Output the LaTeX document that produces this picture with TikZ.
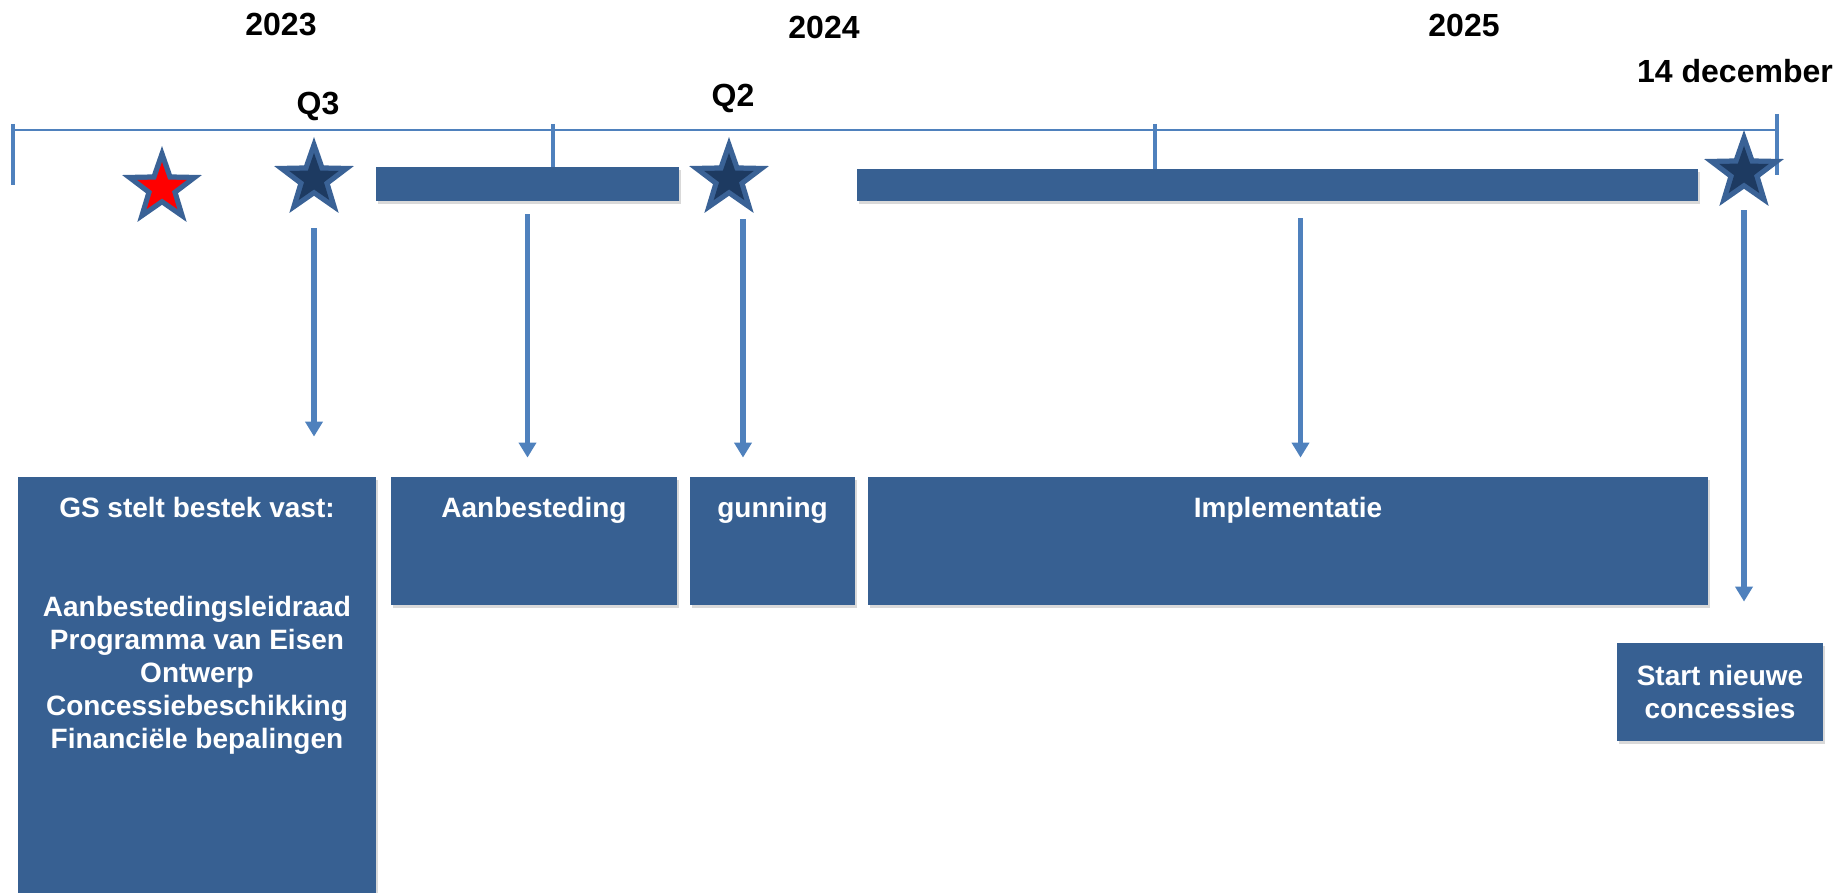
\documentclass[tikz,border=0pt]{standalone}
\usepackage{fontspec}
\setmainfont{Liberation Sans}
\usetikzlibrary{shapes.geometric,shadows,arrows.meta,positioning}
\definecolor{tlblue}{HTML}{4F81BD}
\definecolor{phaseblue}{HTML}{376092}
\definecolor{starnavy}{HTML}{1D3A61}
\definecolor{starrim}{HTML}{3A6296}

\begin{document}
\begin{tikzpicture}[x=0.5pt,y=-0.5pt,
  yearlbl/.style={font=\fontsize{16}{19}\selectfont\bfseries,inner sep=0},
  tick/.style={tlblue,line width=2.2pt},
  phase/.style={fill=phaseblue,inner sep=0,
    drop shadow={opacity=0.3,shadow xshift=1pt,shadow yshift=-1.5pt}},
  phasetext/.style={text=white,font=\fontsize{14}{16.5}\selectfont\bfseries,
    align=center,inner sep=0},
  starrim/.style={star,star points=5,star point ratio=2.5,fill=starrim,
    minimum size=42pt,inner sep=0},
  starcore/.style={star,star points=5,star point ratio=2.5,fill=starnavy,
    minimum size=26pt,inner sep=0},
  flow/.style={tlblue,line width=2.6pt,-{Triangle[width=8.5pt,length=7.5pt]}}
]
\useasboundingbox (0,0) rectangle (1841,893);

\node[yearlbl] (y2023) at (281,25) {2023};
\node[yearlbl] (y2024) at (824,27) {2024};
\node[yearlbl] (y2025) at (1464,25) {2025};
\node[yearlbl] (dec14) at (1735,71) {14 december};
\node[yearlbl] (q3lbl) at (318,106) {Q3};
\node[yearlbl] (q2lbl) at (733,98) {Q2};

\coordinate (tstart) at (13,130);
\coordinate (tend) at (1777,130);
\draw[tlblue,line width=1.2pt] (tstart) -- (tend);
\draw[tick] (13,124) -- (13,185);
\draw[tick] (553,124) -- (553,168);
\draw[tick] (1155,124) -- (1155,170);
\draw[tick] (1777,114) -- (1777,175);

\node[phase,minimum width=151.5pt,minimum height=17pt] (bar1) at (527.5,184) {};
\node[phase,minimum width=420.5pt,minimum height=16pt] (bar2) at (1277.5,185) {};

\node[starrim] (redstar) at (162,188) {};
\node[starcore,fill=red] (redcore) at (redstar) {};
\node[starrim] (q3) at (314,179) {};
\node[starcore] (q3core) at (q3) {};
\node[starrim] (q2) at (729,179) {};
\node[starcore] (q2core) at (q2) {};
\node[starrim] (eind) at (1744,172) {};
\node[starcore] (eindcore) at (eind) {};

\node[phase,minimum width=179pt,minimum height=208pt] (gs) at (197,685) {};
\node[phase,minimum width=143pt,minimum height=64pt] (aanb) at (534,541) {};
\node[phase,minimum width=82.5pt,minimum height=64pt] (gun) at (772.5,541) {};
\node[phase,minimum width=420pt,minimum height=64pt] (impl) at (1288,541) {};
\node[phase,minimum width=103pt,minimum height=49pt] (start) at (1720,692) {};

\node[phasetext,below=10pt of gs.north] (gstxt) {GS stelt bestek vast:\\[33pt]
  Aanbestedingsleidraad\\Programma van Eisen\\Ontwerp\\Concessiebeschikking\\
  Financiële bepalingen};
\node[phasetext,below=10pt of aanb.north] (aanbtxt) {Aanbesteding};
\node[phasetext,below=10pt of gun.north] (guntxt) {gunning};
\node[phasetext,below=10pt of impl.north] (impltxt) {Implementatie};
\node[phasetext] (starttxt) at (start) {Start nieuwe\\concessies};

\coordinate[below=16pt of q3] (q3out);
\coordinate[below=6.5pt of bar1] (bar1out);
\coordinate[below=11.5pt of q2,xshift=7pt] (q2out);
\coordinate[below=8.5pt of bar2,xshift=11.5pt] (bar2out);
\coordinate[below=10.5pt of eind] (eindout);
\draw[flow,shorten >=20pt] (q3out) -- (q3out |- gs.north);
\draw[flow,shorten >=9.5pt] (bar1out) -- (bar1out |- aanb.north);
\draw[flow,shorten >=9.5pt] (q2out) -- (q2out |- gun.north);
\draw[flow,shorten >=9.5pt] (bar2out) -- (bar2out |- impl.north);
\draw[flow,shorten >=20.5pt] (eindout) -- (eindout |- start.north);
\end{tikzpicture}
\end{document}
